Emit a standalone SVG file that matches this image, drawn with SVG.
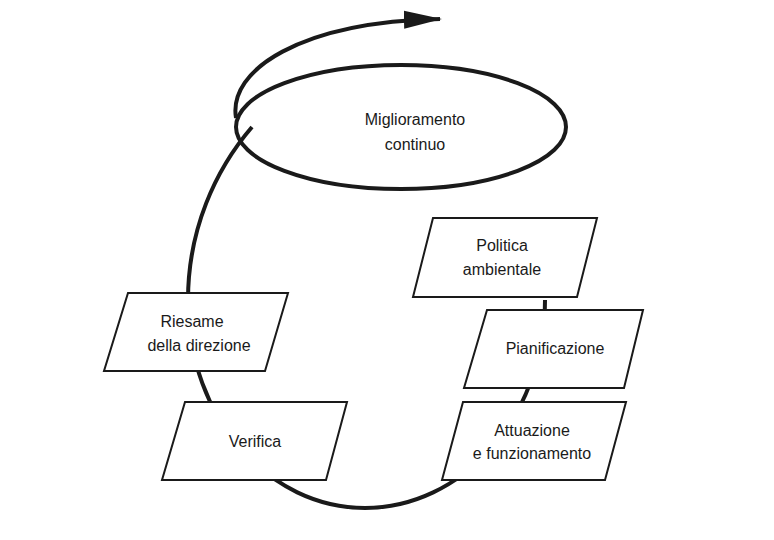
<svg xmlns="http://www.w3.org/2000/svg" width="774" height="540" viewBox="0 0 774 540">
<style>
.c{fill:none;stroke:#1a1a1a;stroke-width:4}
.b{fill:#fff;stroke:#1a1a1a;stroke-width:2}
text{font-family:"Liberation Sans",Arial,sans-serif;font-size:16px;fill:#1a1a1a;text-anchor:middle}
</style>
<defs><marker id="ah" markerUnits="userSpaceOnUse" markerWidth="40" markerHeight="20" refX="36" refY="10" orient="auto"><path d="M0,1 L38,10 L0,19 Z" fill="#1a1a1a"/></marker></defs>
<g id="connectors">
<path class="c" d="M252,127 C215,170 188,230 188,300 C188,420 270,508 365,508 C460,508 545,420 545,300"/>
<path class="c" d="M236,118 C228,70 300,22 440,19" marker-end="url(#ah)"/>
</g>
<g id="miglioramento"><ellipse class="c" cx="401" cy="127" rx="165" ry="62"/><text x="415" y="125">Miglioramento</text><text x="415" y="150">continuo</text></g>
<g id="politica"><polygon class="b" points="433,218 597,218 577,297 413,297"/><text x="502" y="251">Politica</text><text x="502" y="275">ambientale</text></g>
<g id="pianificazione"><polygon class="b" points="487,310 643,310 624,388 464,388"/><text x="555" y="354">Pianificazione</text></g>
<g id="attuazione"><polygon class="b" points="463,402 626,402 605,480 442,480"/><text x="532" y="436">Attuazione</text><text x="532" y="459">e funzionamento</text></g>
<g id="riesame"><polygon class="b" points="128,293 288,293 265,371 104,371"/><text x="192" y="327">Riesame</text><text x="199" y="351">della direzione</text></g>
<g id="verifica"><polygon class="b" points="185,402 347,402 326,480 162,480"/><text x="255" y="447">Verifica</text></g>
</svg>
